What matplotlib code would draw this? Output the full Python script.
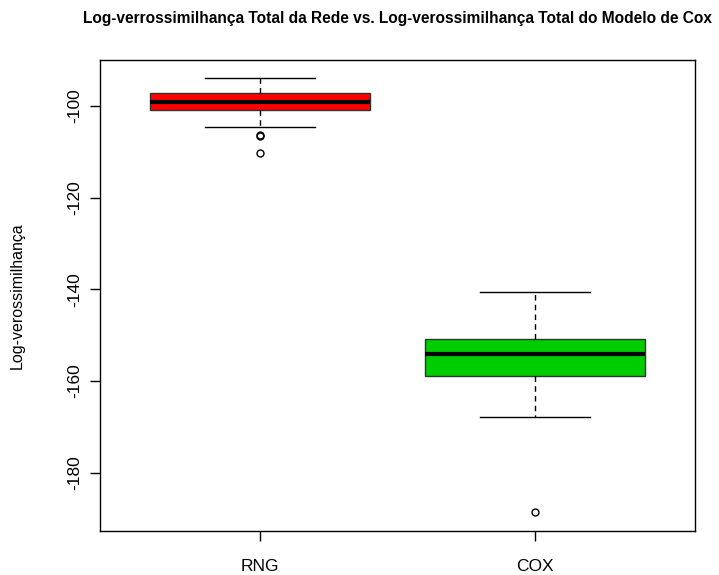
import matplotlib
matplotlib.use("Agg")
import matplotlib.pyplot as plt

plt.rcParams["font.family"] = ["Liberation Sans", "DejaVu Sans"]
plt.rcParams["axes.unicode_minus"] = False

# Values
groups = ["RNG", "COX"]
box_colors = ["#FF0000", "#00CD00"]
whisker_low = [-104.7, -167.8]
quartile_1 = [-100.9, -158.9]
medians = [-99.2, -154.1]
quartile_3 = [-97.3, -150.8]
whisker_high = [-93.9, -140.6]
outliers = [[-106.4, -106.6, -110.2], [-188.5]]

stats = []
for i, name in enumerate(groups):
    stats.append({"label": name, "whislo": whisker_low[i], "q1": quartile_1[i],
                  "med": medians[i], "q3": quartile_3[i],
                  "whishi": whisker_high[i], "fliers": outliers[i]})

fig = plt.figure(figsize=(7.19, 5.75), dpi=100)
ax = fig.add_axes([0.1391, 0.0765, 0.8275, 0.8192])

bp = ax.bxp(stats, positions=[1, 2], widths=0.8, patch_artist=True,
            medianprops=dict(color="black", linewidth=3, solid_capstyle="butt"),
            whiskerprops=dict(color="black", linewidth=1, linestyle=(0, (4, 3))),
            capprops=dict(color="black", linewidth=1),
            capwidths=0.4,
            flierprops=dict(marker="o", markersize=5, markerfacecolor="none",
                            markeredgecolor="black", markeredgewidth=1))
for patch, color in zip(bp["boxes"], box_colors):
    patch.set_facecolor(color)
    patch.set_edgecolor("#333333")
    patch.set_linewidth(1)

ax.set_xlim(0.42, 2.58)
ax.set_ylim(-192.7, -90)
ax.set_yticks([-100, -120, -140, -160, -180])
ax.set_xticks([1, 2])
ax.set_xticklabels(groups)
ax.tick_params(direction="out", length=7, width=1, labelsize=12.5, pad=6)
ax.tick_params(axis="x", pad=13)
for label in ax.get_yticklabels():
    label.set_rotation(90)
    label.set_va("center")
for spine in ax.spines.values():
    spine.set_linewidth(1)

ax.set_ylabel("Log-verossimilhança", fontsize=11.5)
ax.yaxis.set_label_coords(-0.126, 0.5)
fig.text(0.553, 0.9605,
         "Log-verrossimilhança Total da Rede vs. Log-verossimilhança Total do Modelo de Cox",
         ha="center", va="baseline", fontsize=11.2, fontweight="bold")

fig.savefig("out.png", dpi=100)
